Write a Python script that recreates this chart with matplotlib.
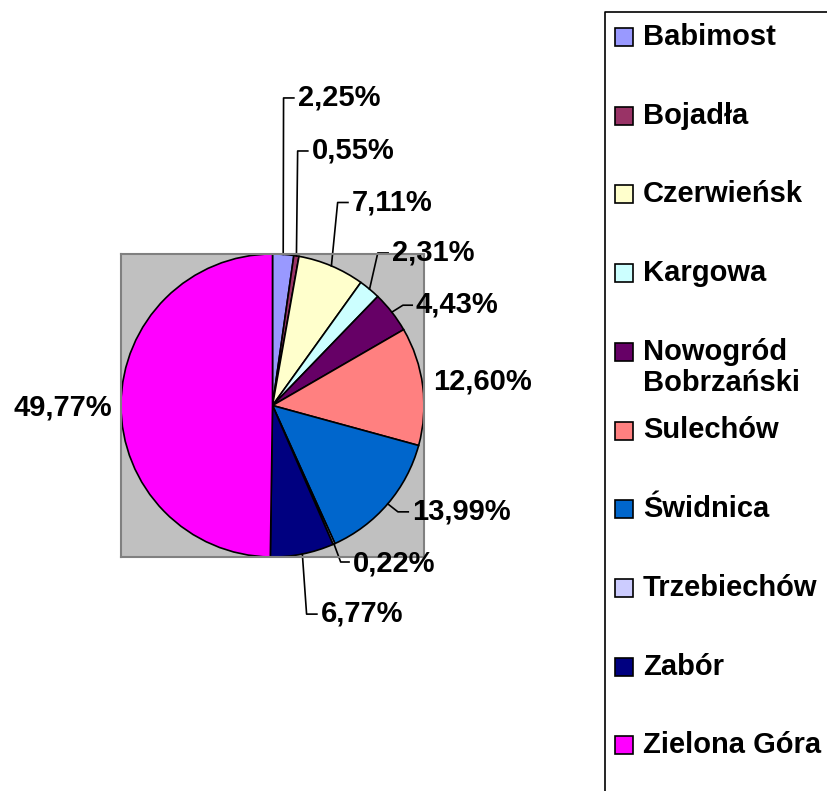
import numpy as np
import matplotlib
matplotlib.use("Agg")
import matplotlib.pyplot as plt
from matplotlib.patches import Rectangle

plt.rcParams['font.family'] = ['Liberation Sans', 'DejaVu Sans']

names = ["Babimost", "Bojadła", "Czerwieńsk", "Kargowa", "Nowogród\nBobrzański",
         "Sulechów", "Świdnica", "Trzebiechów", "Zabór", "Zielona Góra"]
shares = [2.25, 0.55, 7.11, 2.31, 4.43, 12.60, 13.99, 0.22, 6.77, 49.77]
labels = ["2,25%", "0,55%", "7,11%", "2,31%", "4,43%", "12,60%", "13,99%",
          "0,22%", "6,77%", "49,77%"]
colors = ["#9999FF", "#993366", "#FFFFCC", "#CCFFFF", "#660066", "#FF8080",
          "#0066CC", "#CCCCFF", "#000080", "#FF00FF"]

# label layout in pie units: (elbow x, elbow y) or None, (text x, text y)
elbows = [(0.073, 2.03), (0.166, 1.68), (0.43, 1.34), (0.695, 1.007),
          (0.861, 0.662), None, (0.828, -0.702), (0.450, -1.033),
          (0.225, -1.377), None]
text_pos = [(0.166, 2.03), (0.258, 1.68), (0.523, 1.34), (0.788, 1.007),
            (0.947, 0.669), (1.062, 0.159), (0.921, -0.702), (0.530, -1.040),
            (0.318, -1.371), (-1.060, -0.013)]

W, H = 827, 791
fig = plt.figure(figsize=(W / 100, H / 100), dpi=100)

ax = fig.add_axes([121 / W, 1 - 557 / H, 303 / W, 303 / H])
wedges, _ = ax.pie(shares, colors=colors, startangle=90, counterclock=False,
                   radius=1.0, frame=True,
                   wedgeprops=dict(edgecolor="black", linewidth=1.2))
ax.set_facecolor("#C0C0C0")
for s in ax.spines.values():
    s.set_color("#808080")
    s.set_linewidth(1.5)
ax.set_xticks([])
ax.set_yticks([])
ax.set_xlim(-1, 1)
ax.set_ylim(-1, 1)
ax.set_aspect("equal")

for w, lab, el, tp in zip(wedges, labels, elbows, text_pos):
    mid = np.deg2rad((w.theta1 + w.theta2) / 2)
    ex, ey = np.cos(mid), np.sin(mid)
    if el is not None:
        ax.plot([ex, el[0], tp[0] - 0.025], [ey, el[1], el[1]], color="black",
                lw=1.2, clip_on=False)
    ha = "right" if tp[0] < 0 else "left"
    ax.text(tp[0], tp[1], lab, ha=ha, va="center", fontsize=21,
            fontweight="bold", clip_on=False)

# legend drawn in pixel space
lg = fig.add_axes([0, 0, 1, 1], zorder=-1)
lg.set_xlim(0, W)
lg.set_ylim(H, 0)
lg.axis("off")
lg.plot([605, 605, W + 5], [H + 5, 12, 12], color="black", lw=1.2, clip_on=False)
y0, step = 37, 78.7
for i, (name, c) in enumerate(zip(names, colors)):
    y = y0 + i * step
    lg.add_patch(Rectangle((615, y - 9), 18, 18, facecolor=c, edgecolor="black", lw=1.2))
    lines = name.split("\n")
    for j, ln in enumerate(lines):
        lg.text(643, y + j * 31, ln, ha="left", va="center", fontsize=21,
                fontweight="bold")

fig.savefig("out.png", dpi=100)
